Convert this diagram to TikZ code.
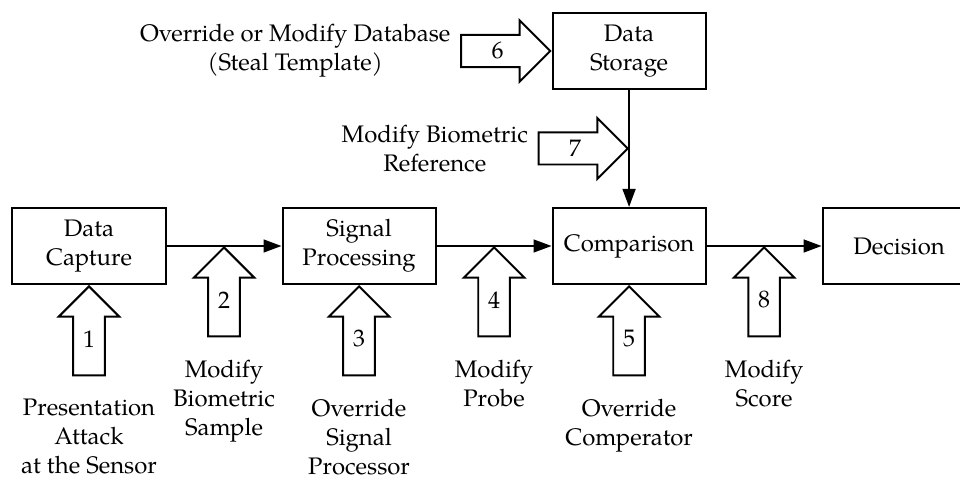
\documentclass[tikz,border=0pt]{standalone}
\usepackage{fontspec}
\setmainfont{texgyrepagella-regular.otf}
\usetikzlibrary{positioning, calc, shapes.arrows, arrows.meta}

\begin{document}
\begin{tikzpicture}[
    x=0.025cm, y=-0.025cm, node distance=2.875cm,
    >={Triangle[length=0.45cm, width=0.32cm]},
    font=\fontsize{17}{20.6}\selectfont,
    line width=1.4pt,
    block/.style={draw, rectangle, minimum width=3.825cm, minimum height=1.9cm, align=center},
    attack/.style={single arrow, draw, single arrow head extend=0.36cm,
        minimum height=2.225cm, inner xsep=6.3pt, inner ysep=4.8pt},
    attackup/.style={attack, shape border rotate=90, anchor=tip},
    attackright/.style={attack, anchor=tip},
    note/.style={align=center, inner sep=0pt}
]
    \path[use as bounding box] (0,0) rectangle (960,478);

    % main chain
    \node[block] (cap) at (89,246) {Data\\Capture};
    \node[block, right=of cap]  (proc)  {Signal\\Processing};
    \node[block, right=of proc] (cmp)   {Comparison};
    \node[block, right=of cmp]  (dec)   {Decision};
    \node[block, above=2.925cm of cmp] (store) {Data\\Storage};

    \draw[->] (cap) -- (proc);
    \draw[->] (proc) -- (cmp);
    \draw[->] (cmp) -- (dec);
    \draw[->] (store) -- (cmp);

    % attack points
    \node[attackup] (a1) at (cap.south) {1};
    \node[attackup] (a2) at ($(cap.east)!.5!(proc.west)$) {2};
    \node[attackup] (a3) at (proc.south) {3};
    \node[attackup] (a4) at ($(proc.east)!.5!(cmp.west)$) {4};
    \node[attackup] (a5) at (cmp.south) {5};
    \node[attackright] (a6) at (store.west) {6};
    \node[attackright] (a7) at ($(store.south)!.5!(cmp.north)$) {7};
    \node[attackup] (a8) at ($(cmp.east)!.5!(dec.west)$) {8};

    \node[note, below=0.55cm of a1.tail] (t1) {Presentation\\Attack\\at the Sensor};
    \node[note, below=0.55cm of a2.tail] (t2) {Modify\\Biometric\\Sample};
    \node[note, below=0.55cm of a3.tail] (t3) {Override\\Signal\\Processor};
    \node[note, below=0.55cm of a4.tail] (t4) {Modify\\Probe};
    \node[note, below=0.55cm of a5.tail] (t5) {Override\\Comperator};
    \node[note, left=0.22cm of a6.tail] (t6) {Override or Modify Database\\(Steal Template)};
    \node[note, left=0.22cm of a7.tail] (t7) {Modify Biometric\\Reference};
    \node[note, below=0.55cm of a8.tail] (t8) {Modify\\Score};
\end{tikzpicture}
\end{document}
